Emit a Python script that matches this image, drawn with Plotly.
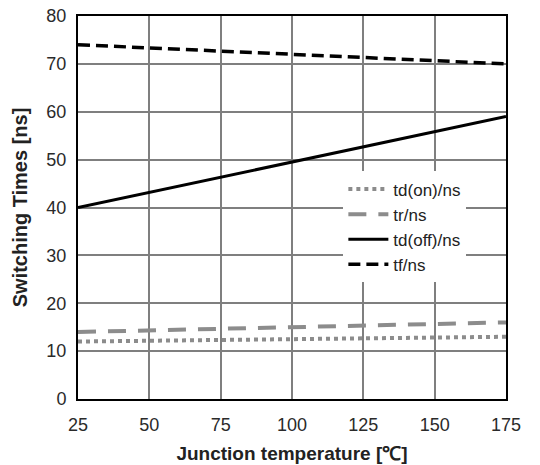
import plotly.graph_objects as go

temps = [25, 175]
td_on = [12, 13]
tr = [14, 16]
td_off = [40, 59]
tf = [74, 70]

x_ticks = [25, 50, 75, 100, 125, 150, 175]
y_ticks = [0, 10, 20, 30, 40, 50, 60, 70, 80]

fig = go.Figure()
fig.add_trace(go.Scatter(x=temps, y=td_on, mode="lines", name="td(on)/ns",
                         line=dict(color="#8c8c8c", width=4, dash="dot")))
fig.add_trace(go.Scatter(x=temps, y=tr, mode="lines", name="tr/ns",
                         line=dict(color="#8c8c8c", width=4, dash="18px,12px")))
fig.add_trace(go.Scatter(x=temps, y=td_off, mode="lines", name="td(off)/ns",
                         line=dict(color="black", width=3)))
fig.add_trace(go.Scatter(x=temps, y=tf, mode="lines", name="tf/ns",
                         line=dict(color="black", width=3.5, dash="12px,6px")))

font_family = "Liberation Sans, Arial, sans-serif"
fig.update_layout(
    width=540, height=465,
    margin=dict(l=78, r=34, t=16, b=66, autoexpand=False),
    paper_bgcolor="white", plot_bgcolor="white",
    font=dict(family=font_family, size=18, color="#222"),
    legend=dict(x=0.62, y=0.594, xanchor="left", yanchor="top",
                bgcolor="white", font=dict(size=17, color="#222"),
                tracegroupgap=0, itemwidth=40),
    xaxis=dict(range=[25, 175], tickvals=x_ticks, showgrid=True,
               gridcolor="#7f7f7f", gridwidth=1.5, zeroline=False,
               showline=True, linecolor="black", linewidth=2, mirror=True,
               ticks="", tickfont=dict(size=18, color="#2a2a2a"),
               ticklabelstandoff=8, automargin=False,
               title=dict(text="<b>Junction temperature [℃]</b>",
                          font=dict(size=19, color="#222"), standoff=13)),
    yaxis=dict(range=[0, 80], tickvals=y_ticks, showgrid=True,
               gridcolor="#7f7f7f", gridwidth=1.5, zeroline=False,
               showline=True, linecolor="black", linewidth=2, mirror=True,
               ticks="", tickfont=dict(size=18, color="#2a2a2a"),
               ticklabelstandoff=6, automargin=False,
               title=dict(text="<b>Switching Times [ns]</b>",
                          font=dict(size=20, color="#222"), standoff=13)),
)
fig.write_html("out.html")
